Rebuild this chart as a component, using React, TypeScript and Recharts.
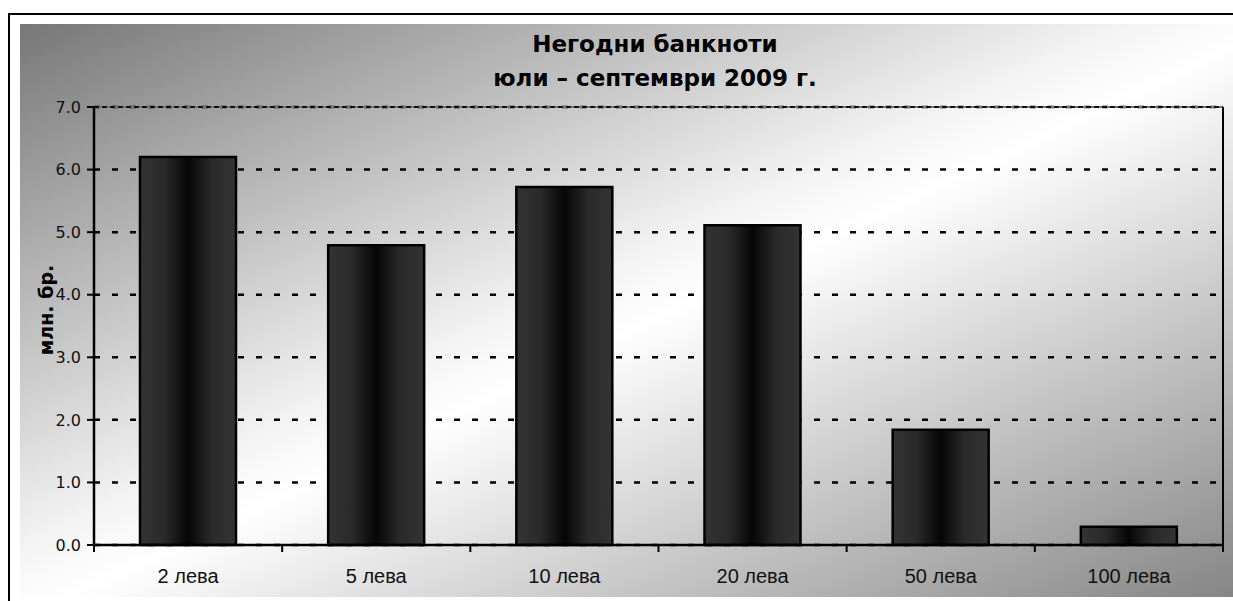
import React from "react";
import { Bar, BarChart, CartesianGrid, ReferenceLine, XAxis, YAxis } from "recharts";

// Unfit banknotes, July – September 2009 (million pieces)
const categories = ["2 лева", "5 лева", "10 лева", "20 лева", "50 лева", "100 лева"];
const values = [6.2, 4.79, 5.72, 5.11, 1.84, 0.29];
const yTicks = [0, 1, 2, 3, 4, 5, 6, 7];
const titleLines = ["Негодни банкноти", "юли – септември 2009 г."];
const yLabel = "млн. бр.";

// bars sit in the middle of each unit slot on a numeric x axis, so the
// axis ticks can be placed on the slot edges like the original
const data = categories.map((name, i) => ({ pos: i + 0.5, name, value: values[i] }));
const xTicks = categories.flatMap((_, i) => [i, i + 0.5]).concat(categories.length);

const W = 1233;
const H = 601;

function XTick(props: any) {
  const { x, y, payload } = props;
  const v = payload.value as number;
  if (Number.isInteger(v)) {
    return <line x1={x} y1={y} x2={x} y2={y + 7} stroke="#000" strokeWidth={2} />;
  }
  return (
    <text x={x} y={y + 38} textAnchor="middle" fill="#111" fontSize={20} fontFamily="'Liberation Sans', Arial, sans-serif">
      {categories[Math.floor(v)]}
    </text>
  );
}

export default function App() {
  return (
    <div style={{ position: "absolute", left: 0, top: 0, width: W, height: H, overflow: "hidden", background: "#fff" }}>
      <div
        style={{
          position: "absolute",
          left: 8,
          top: 13,
          width: W,
          height: H,
          borderLeft: "2px solid #000",
          borderTop: "2px solid #000",
        }}
      />
      <div
        style={{
          position: "absolute",
          left: 20,
          top: 24,
          width: W - 20,
          height: 573,
          background: "linear-gradient(to bottom right, #777777 0%, #f4f4f4 46%, #ffffff 52%, #858585 100%)",
        }}
      />
      <div style={{ position: "absolute", left: 0, top: 0 }}>
        <BarChart width={W} height={H} data={data} margin={{ top: 107, right: 10, left: 8, bottom: 0 }}>
          <defs>
            <linearGradient id="barFill" x1="0" y1="0" x2="1" y2="0">
              <stop offset="0%" stopColor="#333" />
              <stop offset="25%" stopColor="#2a2a2a" />
              <stop offset="50%" stopColor="#060606" />
              <stop offset="75%" stopColor="#2a2a2a" />
              <stop offset="100%" stopColor="#333" />
            </linearGradient>
          </defs>
          <CartesianGrid horizontal vertical={false} stroke="#000" strokeWidth={2.5} strokeDasharray="6 12" />
          <ReferenceLine y={7} stroke="#777" strokeWidth={2} />
          <ReferenceLine y={7} stroke="#111" strokeWidth={2} strokeDasharray="5 3" />
          <ReferenceLine x={6} stroke="#000" strokeWidth={2} />
          <XAxis
            dataKey="pos"
            type="number"
            domain={[0, 6]}
            ticks={xTicks}
            interval={0}
            height={56}
            axisLine={{ stroke: "#000", strokeWidth: 2.5 }}
            tickLine={false}
            tickSize={0}
            tickMargin={0}
            tick={<XTick />}
          />
          <YAxis
            domain={[0, 7]}
            ticks={yTicks}
            interval={0}
            width={86}
            axisLine={{ stroke: "#000", strokeWidth: 2.5 }}
            tickLine={{ stroke: "#000", strokeWidth: 2 }}
            tickSize={7}
            tickMargin={6}
            tickFormatter={(v: number) => v.toFixed(1)}
            tick={{ fill: "#111", fontSize: 16, fontFamily: "'DejaVu Sans', Verdana, sans-serif" }}
          />
          <Bar dataKey="value" barSize={96} fill="url(#barFill)" stroke="#000" strokeWidth={2.5} isAnimationActive={false} />
          {titleLines.map((t, i) => (
            <text
              key={t}
              x={655}
              y={52 + i * 34}
              textAnchor="middle"
              fontSize={23}
              fontWeight="bold"
              fontFamily="'DejaVu Sans', Verdana, sans-serif"
              fill="#000"
            >
              {t}
            </text>
          ))}
          <text
            x={0}
            y={0}
            transform="translate(53 310) rotate(-90)"
            textAnchor="middle"
            fontSize={19}
            fontWeight="bold"
            fontFamily="'DejaVu Sans', Verdana, sans-serif"
            fill="#000"
          >
            {yLabel}
          </text>
        </BarChart>
      </div>
    </div>
  );
}
